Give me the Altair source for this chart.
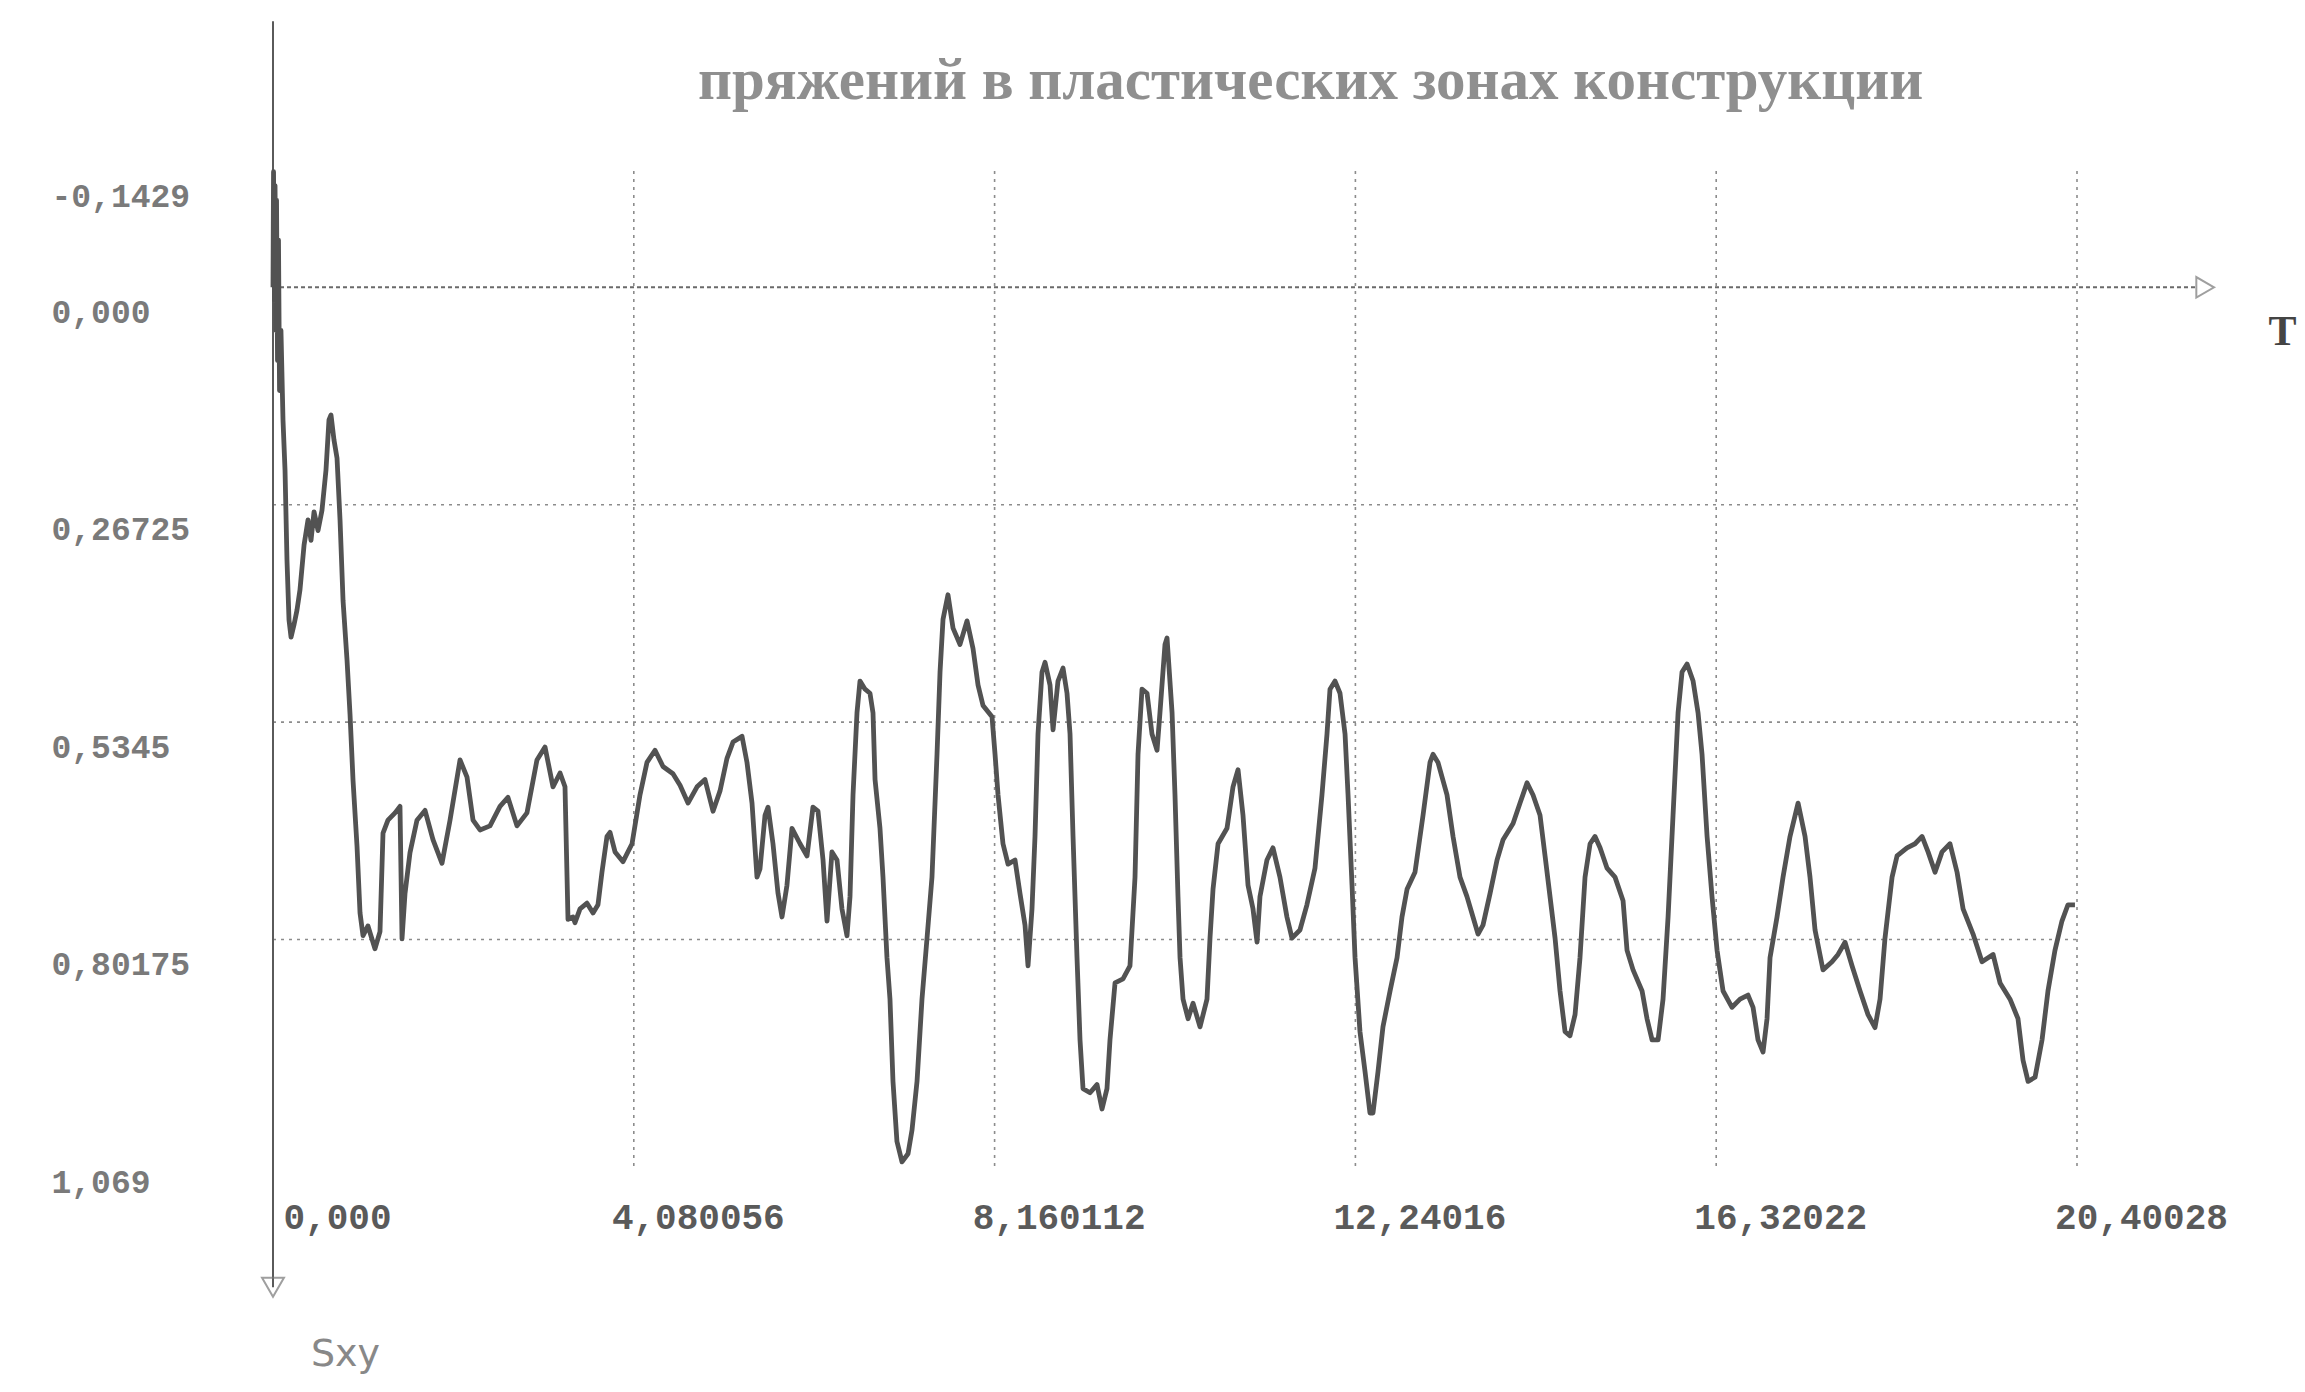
import altair as alt
import pandas as pd

# ---- data -----------------------------------------------------------------
T = [
    0.000, 0.006, 0.017, 0.023, 0.034, 0.040, 0.051, 0.062, 0.074, 0.090,
    0.113, 0.136, 0.158, 0.181, 0.204, 0.237, 0.271, 0.305, 0.351, 0.396,
    0.430, 0.464, 0.509, 0.554, 0.599, 0.633, 0.656, 0.690, 0.724, 0.758,
    0.792, 0.837, 0.871, 0.905, 0.950, 0.984, 1.018, 1.074, 1.153, 1.210,
    1.244, 1.300, 1.380, 1.436, 1.459, 1.493, 1.549, 1.628, 1.719, 1.809,
    1.911, 2.002, 2.115, 2.194, 2.262, 2.341, 2.454, 2.567, 2.657, 2.759,
    2.872, 2.985, 3.076, 3.166, 3.246, 3.302, 3.336, 3.392, 3.415, 3.472,
    3.551, 3.619, 3.675, 3.720, 3.777, 3.811, 3.868, 3.958, 4.060, 4.150,
    4.229, 4.320, 4.410, 4.523, 4.603, 4.693, 4.795, 4.885, 4.976, 5.055,
    5.134, 5.202, 5.304, 5.360, 5.417, 5.473, 5.507, 5.564, 5.598, 5.654,
    5.711, 5.756, 5.812, 5.869, 5.960, 6.039, 6.106, 6.163, 6.220, 6.265,
    6.321, 6.378, 6.434, 6.491, 6.525, 6.559, 6.604, 6.638, 6.695, 6.751,
    6.785, 6.808, 6.864, 6.898, 6.943, 6.977, 7.011, 7.056, 7.113, 7.181,
    7.226, 7.283, 7.339, 7.396, 7.452, 7.509, 7.543, 7.577, 7.633, 7.690,
    7.769, 7.848, 7.916, 7.973, 8.029, 8.131, 8.165, 8.199, 8.255, 8.312,
    8.391, 8.447, 8.504, 8.538, 8.583, 8.617, 8.651, 8.696, 8.730, 8.787,
    8.821, 8.877, 8.934, 8.979, 9.013, 9.047, 9.092, 9.126, 9.160, 9.239,
    9.318, 9.375, 9.431, 9.465, 9.522, 9.612, 9.691, 9.748, 9.782, 9.827,
    9.884, 9.940, 9.997, 10.030, 10.087, 10.110, 10.167, 10.200, 10.234, 10.257,
    10.291, 10.348, 10.404, 10.483, 10.562, 10.596, 10.630, 10.687, 10.788, 10.856,
    10.913, 10.969, 11.026, 11.082, 11.128, 11.161, 11.240, 11.308, 11.387, 11.466,
    11.523, 11.613, 11.692, 11.783, 11.862, 11.919, 11.953, 12.010, 12.066, 12.123,
    12.157, 12.202, 12.236, 12.292, 12.349, 12.405, 12.439, 12.496, 12.552, 12.632,
    12.711, 12.767, 12.824, 12.914, 13.005, 13.084, 13.118, 13.174, 13.276, 13.344,
    13.423, 13.502, 13.570, 13.627, 13.683, 13.763, 13.842, 13.910, 14.023, 14.102,
    14.181, 14.249, 14.328, 14.385, 14.441, 14.498, 14.554, 14.611, 14.667, 14.724,
    14.780, 14.837, 14.894, 14.950, 15.007, 15.086, 15.176, 15.267, 15.312, 15.380,
    15.482, 15.538, 15.595, 15.663, 15.719, 15.776, 15.832, 15.889, 15.934, 15.991,
    16.059, 16.115, 16.160, 16.217, 16.273, 16.330, 16.398, 16.499, 16.590, 16.680,
    16.737, 16.793, 16.850, 16.895, 16.929, 17.008, 17.076, 17.155, 17.246, 17.325,
    17.381, 17.438, 17.528, 17.630, 17.698, 17.777, 17.856, 17.947, 18.037, 18.116,
    18.173, 18.229, 18.309, 18.365, 18.478, 18.569, 18.648, 18.716, 18.795, 18.874,
    18.964, 19.044, 19.112, 19.225, 19.326, 19.451, 19.530, 19.643, 19.733, 19.790,
    19.847, 19.926, 20.005, 20.072, 20.151, 20.230, 20.298, 20.377,
]

SXY = [
    0.000, -0.142, 0.016, -0.125, 0.053, -0.107, 0.090, -0.058, 0.127, 0.053,
    0.163, 0.225, 0.335, 0.409, 0.430, 0.415, 0.397, 0.372, 0.317, 0.286,
    0.311, 0.276, 0.299, 0.274, 0.225, 0.163, 0.157, 0.188, 0.210, 0.286,
    0.385, 0.458, 0.525, 0.606, 0.687, 0.769, 0.797, 0.785, 0.813, 0.792,
    0.671, 0.655, 0.646, 0.638, 0.801, 0.745, 0.695, 0.655, 0.643, 0.679,
    0.708, 0.655, 0.581, 0.602, 0.655, 0.667, 0.662, 0.638, 0.627, 0.662,
    0.646, 0.581, 0.565, 0.614, 0.597, 0.614, 0.777, 0.774, 0.781, 0.764,
    0.757, 0.769, 0.759, 0.719, 0.675, 0.670, 0.694, 0.706, 0.684, 0.624,
    0.584, 0.569, 0.589, 0.598, 0.612, 0.634, 0.614, 0.605, 0.644, 0.619,
    0.579, 0.559, 0.552, 0.584, 0.634, 0.725, 0.715, 0.649, 0.639, 0.684,
    0.745, 0.774, 0.735, 0.665, 0.684, 0.699, 0.639, 0.644, 0.704, 0.779,
    0.694, 0.704, 0.764, 0.797, 0.749, 0.624, 0.523, 0.484, 0.494, 0.499,
    0.523, 0.605, 0.665, 0.725, 0.824, 0.875, 0.976, 1.050, 1.075, 1.065,
    1.036, 0.976, 0.875, 0.800, 0.725, 0.574, 0.473, 0.408, 0.378, 0.419,
    0.439, 0.410, 0.444, 0.489, 0.514, 0.528, 0.574, 0.624, 0.684, 0.709,
    0.704, 0.745, 0.784, 0.834, 0.764, 0.675, 0.549, 0.473, 0.461, 0.489,
    0.544, 0.484, 0.468, 0.499, 0.549, 0.675, 0.824, 0.925, 0.985, 0.990,
    0.980, 1.010, 0.985, 0.925, 0.855, 0.850, 0.834, 0.725, 0.574, 0.494,
    0.499, 0.549, 0.569, 0.523, 0.439, 0.431, 0.523, 0.624, 0.749, 0.824,
    0.875, 0.899, 0.880, 0.909, 0.875, 0.800, 0.740, 0.684, 0.665, 0.614,
    0.593, 0.649, 0.735, 0.764, 0.805, 0.749, 0.704, 0.689, 0.725, 0.774,
    0.800, 0.790, 0.759, 0.714, 0.624, 0.549, 0.494, 0.484, 0.499, 0.549,
    0.624, 0.735, 0.824, 0.915, 0.964, 1.015, 1.015, 0.964, 0.909, 0.865,
    0.824, 0.774, 0.740, 0.719, 0.649, 0.584, 0.574, 0.584, 0.624, 0.675,
    0.725, 0.749, 0.774, 0.795, 0.784, 0.745, 0.704, 0.679, 0.659, 0.634,
    0.609, 0.624, 0.649, 0.699, 0.749, 0.800, 0.865, 0.915, 0.920, 0.894,
    0.824, 0.725, 0.684, 0.675, 0.689, 0.714, 0.725, 0.754, 0.815, 0.839,
    0.865, 0.899, 0.925, 0.925, 0.875, 0.774, 0.649, 0.523, 0.473, 0.463,
    0.484, 0.523, 0.574, 0.675, 0.749, 0.815, 0.865, 0.885, 0.875, 0.870,
    0.885, 0.925, 0.940, 0.899, 0.824, 0.774, 0.725, 0.675, 0.634, 0.675,
    0.725, 0.790, 0.839, 0.829, 0.820, 0.805, 0.834, 0.865, 0.894, 0.910,
    0.875, 0.800, 0.725, 0.699, 0.689, 0.684, 0.675, 0.694, 0.719, 0.694,
    0.684, 0.719, 0.764, 0.795, 0.829, 0.820, 0.855, 0.875, 0.899, 0.950,
    0.976, 0.971, 0.925, 0.865, 0.815, 0.779, 0.759, 0.759,
]

x_ticks = [0.0, 4.080056, 8.160112, 12.24016, 16.32022, 20.40028]
y_ticks = [-0.1429, 0.0, 0.26725, 0.5345, 0.80175, 1.069]
vgrid_x = [4.080056, 8.160112, 12.24016, 16.32022, 20.40028]
hgrid_y = [0.26725, 0.5345, 0.80175]
caption = "пряжений в пластических зонах конструкции"

# axis arrows (axis decoration, in data units)
t_axis_end = [21.75]
t_arrow = [21.85]
sxy_axis_top = [-0.327]
sxy_arrow = [1.229]

X_DOMAIN = [0.0, 20.40028]
Y_DOMAIN = [-0.1429, 1.069]

xs = alt.Scale(domain=X_DOMAIN, nice=False, zero=False)
ys = alt.Scale(domain=Y_DOMAIN, nice=False, zero=False, reverse=True)

x_label_expr = "datum.value == 0 ? '0,000' : replace(toString(datum.value), '.', ',')"
y_label_expr = ("datum.value == 0 ? '\u00a0\u00a00,000' : "
                "replace(toString(datum.value), '.', ',')")

x_axis = alt.Axis(
    values=x_ticks, labelExpr=x_label_expr, domain=False, ticks=False,
    tickSize=0, grid=False, orient="bottom",
    labelAlign="center", labelBaseline="middle", labelOffset=64,
    labelPadding=60, labelOverlap=False, labelFlush=False, labelBound=False,
    labelFont="Liberation Mono", labelFontSize=36, labelFontWeight="bold",
    labelColor="#5a5a5a",
    title="T", titleX=2009, titleY=-826, titleAlign="center",
    titleBaseline="middle", titleFont="Liberation Serif",
    titleFontSize=42, titleFontWeight="bold", titleColor="#444444",
)
y_axis = alt.Axis(
    values=y_ticks, labelExpr=y_label_expr, domain=False, ticks=False,
    tickSize=0, grid=False, orient="left",
    labelAlign="left", labelBaseline="middle", labelOffset=25,
    labelPadding=222, labelOverlap=False, labelFlush=False, labelBound=False,
    labelFont="Liberation Mono", labelFontSize=33, labelFontWeight="bold",
    labelColor="#7a7a7a",
    title="Sxy", titleX=72, titleY=1183, titleAngle=0, titleAlign="center",
    titleBaseline="middle", titleFont="DejaVu Sans", titleFontSize=38,
    titleFontWeight="normal", titleColor="#888888",
)

curve_df = pd.DataFrame({"T": T, "Sxy": SXY, "i": list(range(len(T)))})
vgrid_df = pd.DataFrame({"T": vgrid_x, "Sxy": [Y_DOMAIN[0]] * len(vgrid_x),
                         "Sxy2": [1.084] * len(vgrid_x)})
hgrid_df = pd.DataFrame({"Sxy": hgrid_y, "T": [0.0] * len(hgrid_y),
                         "T2": [X_DOMAIN[1]] * len(hgrid_y)})
taxis_df = pd.DataFrame({"Sxy": [0.0], "T": [0.0], "T2": t_axis_end})
yaxis_df = pd.DataFrame({"T": [0.0], "Sxy": sxy_axis_top, "Sxy2": sxy_arrow})
tarrow_df = pd.DataFrame({"T": t_arrow, "Sxy": [0.0]})
yarrow_df = pd.DataFrame({"T": [0.0], "Sxy": sxy_arrow})
cap_df = pd.DataFrame({"label": [caption]})

X = alt.X("T:Q", scale=xs, axis=x_axis)
Y = alt.Y("Sxy:Q", scale=ys, axis=y_axis)

grid_style = dict(color="#8c8c8c", strokeWidth=1.6, strokeDash=[3, 5])

vgrid = alt.Chart(vgrid_df).mark_rule(**grid_style).encode(x=X, y=Y, y2="Sxy2:Q")
hgrid = alt.Chart(hgrid_df).mark_rule(**grid_style).encode(y=Y, x=X, x2="T2:Q")
taxis = alt.Chart(taxis_df).mark_rule(color="#6a6a6a", strokeWidth=2,
                                      strokeDash=[4, 3]).encode(y=Y, x=X, x2="T2:Q")
yaxis = alt.Chart(yaxis_df).mark_rule(color="#5a5a5a", strokeWidth=2).encode(
    x=X, y=Y, y2="Sxy2:Q")
tarrow = alt.Chart(tarrow_df).mark_point(shape="triangle-right", size=420,
                                         filled=False, color="#777777",
                                         strokeWidth=2).encode(x=X, y=Y)
yarrow = alt.Chart(yarrow_df).mark_point(shape="triangle-down", size=480,
                                         filled=False, color="#777777",
                                         strokeWidth=2).encode(x=X, y=Y)

curve = alt.Chart(curve_df).mark_line(color="#525252", strokeWidth=4.8,
                                      strokeJoin="round").encode(
    x=X, y=Y, order="i:Q")

cap = alt.Chart(cap_df).mark_text(
    align="left", baseline="middle", font="Liberation Serif", fontSize=59,
    fontWeight="bold", color="#8f8f8f",
).encode(text="label:N", x=alt.value(425), y=alt.value(-90))

chart = alt.layer(vgrid, hgrid, taxis, yaxis, tarrow, yarrow, curve, cap).properties(
    width=1804,
    height=986,
    autosize=alt.AutoSizeParams(type="none"),
    padding={"left": 265, "top": 163, "right": 220, "bottom": 222},
    background="white",
).configure_view(stroke=None)

chart.save("out.html", embed_options={"renderer": "svg", "actions": False})
